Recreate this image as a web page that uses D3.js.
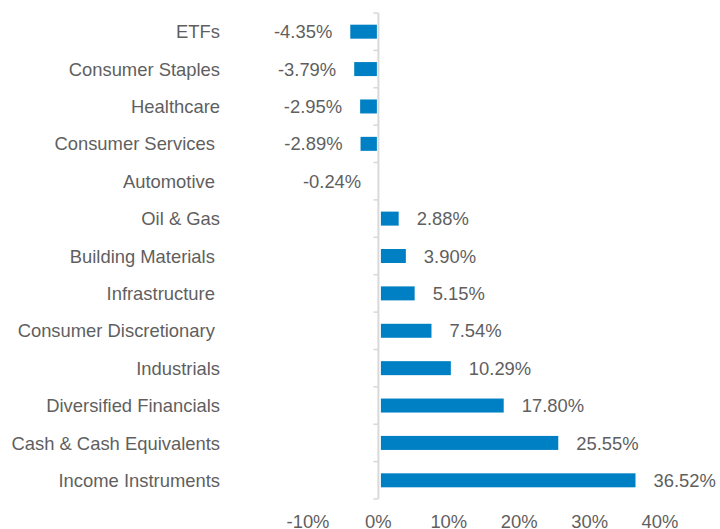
<!DOCTYPE html>
<html>
<head>
<meta charset="utf-8">
<script src="https://cdn.jsdelivr.net/npm/d3@7"></script>
<style>
  body { margin: 0; background: #fff; }
  svg text { font-family: "Liberation Sans", Arial, sans-serif; fill: #5f5f5f; white-space: pre; }
</style>
</head>
<body>
<svg id="chart" width="720" height="529"></svg>
<script>
// 行业分类（从上到下），部分原图标签带尾随空格
var categories = ["ETFs", "Consumer Staples", "Healthcare", "Consumer Services ", "Automotive ",
  "Oil & Gas", "Building Materials ", "Infrastructure ", "Consumer Discretionary ",
  "Industrials", "Diversified Financials", "Cash & Cash Equivalents", "Income Instruments"];
var values = [-4.35, -3.79, -2.95, -2.89, -0.24, 2.88, 3.90, 5.15, 7.54, 10.29, 17.80, 25.55, 36.52];
var xTicks = [-10, 0, 10, 20, 30, 40];

var svg = d3.select("#chart");
var fs = 18.4;

var x = d3.scaleLinear().domain([-10, 40]).range([308, 660]);
var rows = d3.scaleBand().domain(categories).range([13, 499]).padding(0);
var barH = 14;
var gap = 2.5; // 柱子与轴线间的空隙

function barLeft(d) {
  return d < 0 ? x(d) + gap : x(0) + gap;
}
function barWidth(d) {
  if (d < 0) return Math.max(0, (x(0) - 1.5) - (x(d) + gap));
  return Math.max(0, x(d) - x(0) - gap);
}

// 纵轴线
svg.append("line")
  .attr("x1", x(0)).attr("x2", x(0))
  .attr("y1", 13).attr("y2", 499)
  .attr("stroke", "#d9d9d9").attr("stroke-width", 2);

// 刻度（行边界）
var bounds = categories.map(function (d) { return rows(d); }).concat([499]);
svg.selectAll("line.tick")
  .data(bounds)
  .enter()
  .append("line")
  .attr("class", "tick")
  .attr("x1", x(0) - 5).attr("x2", x(0))
  .attr("y1", function (d) { return d; })
  .attr("y2", function (d) { return d; })
  .attr("stroke", "#d9d9d9").attr("stroke-width", 1.5);

// 柱子
svg.selectAll("rect.bar")
  .data(values)
  .enter()
  .append("rect")
  .attr("class", "bar")
  .attr("x", barLeft)
  .attr("y", function (d, i) { return rows(categories[i]) + rows.bandwidth() / 2 - barH / 2; })
  .attr("width", barWidth)
  .attr("height", barH)
  .attr("fill", "#0080c4");

// 数值标签
svg.selectAll("text.val")
  .data(values)
  .enter()
  .append("text")
  .attr("class", "val")
  .attr("x", function (d) { return d < 0 ? x(d) + gap - 18 : x(d) + 18; })
  .attr("y", function (d, i) { return rows(categories[i]) + rows.bandwidth() / 2; })
  .attr("dy", "0.36em")
  .attr("text-anchor", function (d) { return d < 0 ? "end" : "start"; })
  .attr("font-size", fs)
  .text(function (d) { return d.toFixed(2) + "%"; });

// 分类标签
svg.selectAll("text.cat")
  .data(categories)
  .enter()
  .append("text")
  .attr("class", "cat")
  .attr("x", 220)
  .attr("y", function (d) { return rows(d) + rows.bandwidth() / 2; })
  .attr("dy", "0.36em")
  .attr("text-anchor", "end")
  .attr("font-size", fs)
  .text(function (d) { return d; });

// 横轴刻度标签
svg.selectAll("text.xt")
  .data(xTicks)
  .enter()
  .append("text")
  .attr("class", "xt")
  .attr("x", function (d) { return x(d); })
  .attr("y", 521)
  .attr("dy", "0.36em")
  .attr("text-anchor", "middle")
  .attr("font-size", fs)
  .text(function (d) { return d + "%"; });
</script>
</body>
</html>
